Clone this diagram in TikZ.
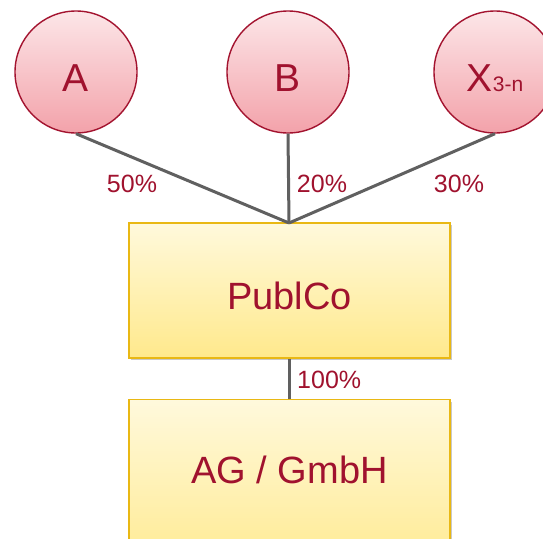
\documentclass[tikz,border=0pt]{standalone}
\usepackage{fontspec}
\setmainfont{Liberation Sans}
\usetikzlibrary{shadows}
\definecolor{txtred}{HTML}{A0122E}
\definecolor{ringred}{HTML}{A3132F}
\definecolor{pinktop}{HTML}{FCE6E8}
\definecolor{pinkbot}{HTML}{F3A2AA}
\definecolor{goldline}{HTML}{E9B814}
\definecolor{creamtop}{HTML}{FFF9DC}
\definecolor{creambot}{HTML}{FFE98C}
\definecolor{linkgray}{HTML}{606060}
\newcommand{\lowered}[2]{\raisebox{-#1}[\height][\depth]{#2}}
\tikzset{
  x=1pt, y=-1pt,
  holder/.style={circle, draw=ringred, line width=1.4pt, minimum size=122pt,
    inner sep=0pt, top color=pinktop, bottom color=pinkbot, text=txtred,
    font=\fontsize{39}{44}\selectfont},
  entity/.style={rectangle, draw=goldline, line width=1.4pt, minimum width=321pt,
    top color=creamtop, bottom color=creambot, text=txtred,
    drop shadow={shadow xshift=1.5pt, shadow yshift=-2pt, opacity=0.35, fill=black!60},
    font=\fontsize{38}{44}\selectfont},
  link/.style={draw=linkgray, line width=3pt},
  share/.style={text=txtred, font=\fontsize{25}{29}\selectfont, inner sep=0pt}
}
\begin{document}
\begin{tikzpicture}
  \clip (0,0) rectangle (543,538);
  \fill[white] (0,0) rectangle (543,538);

  % shareholders
  \node[holder] (A) at (76,72) {\lowered{6pt}{A}};
  \node[holder] (B) at (288,72) {\lowered{6pt}{B}};
  \node[holder] (X) at (495,72) {\lowered{6pt}{X\fontsize{21}{24}\selectfont 3-n}};

  % companies
  \node[entity, minimum height=135pt] (pub) at (289.5,290.5) {\lowered{5pt}{PublCo}};
  \node[entity, minimum height=180pt, anchor=north] (ag) at (289.5,399) {};
  \node[text=txtred, font=\fontsize{38}{44}\selectfont] (agt) at (289.5,470) {AG / GmbH};

  % ownership links
  \coordinate (hub) at (289,223);
  \draw[link] (A.south) -- (hub);
  \draw[link] (B.south) -- (hub);
  \draw[link] (X.south) -- (hub);
  \draw[link] (pub.south) -- (ag.north);

  % shares
  \node[share] (pA) at (132,184) {50\%};
  \node[share] (pB) at (322,184) {20\%};
  \node[share] (pX) at (459,184) {30\%};
  \node[share, anchor=west] (pP) at (297,380) {100\%};
\end{tikzpicture}
\end{document}
